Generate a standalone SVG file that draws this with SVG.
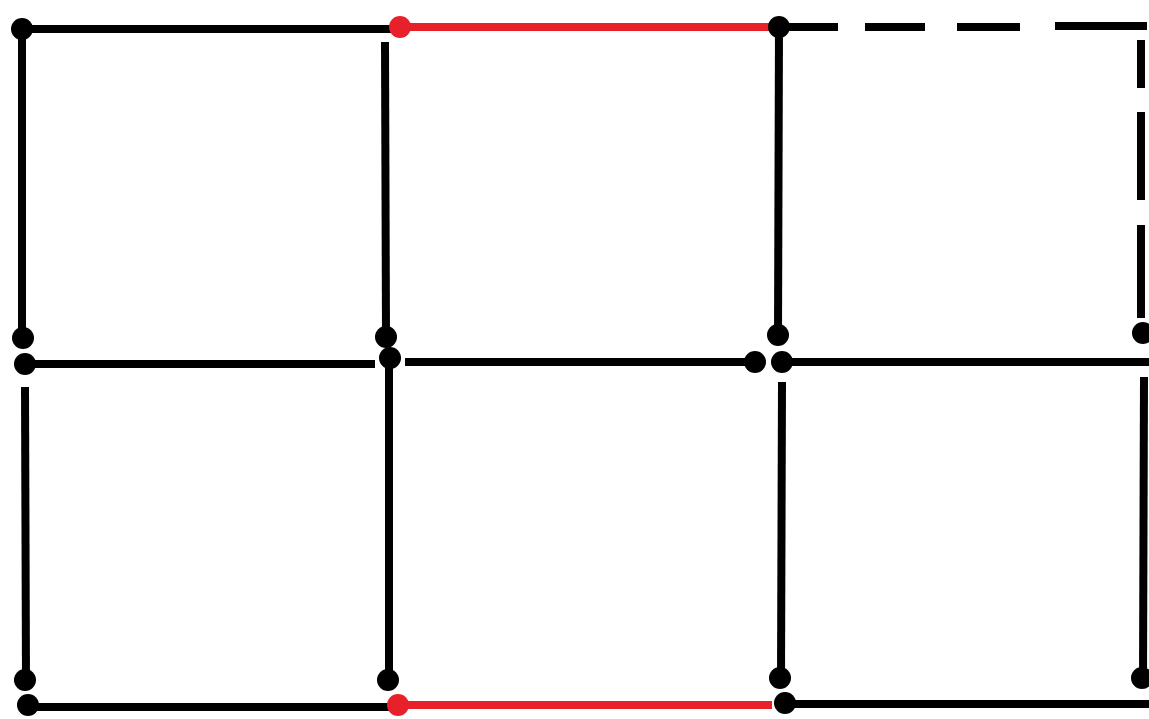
<svg xmlns="http://www.w3.org/2000/svg" width="1149" height="719" viewBox="0 0 1149 719">
<style>
.e{stroke:#000;stroke-width:8;fill:none;stroke-linecap:butt}
.r{stroke:#e8202a;stroke-width:8;fill:none}
.d{fill:#000}
.rd{fill:#e8202a}
</style>
<rect width="1149" height="719" fill="#fff"/>
<g id="connectors">
<line class="e" x1="22" y1="29" x2="400" y2="29"/>
<line class="r" x1="400" y1="27" x2="778" y2="27"/>
<line class="e" x1="778" y1="27" x2="838" y2="27"/>
<line class="e" x1="865" y1="27" x2="925" y2="27"/>
<line class="e" x1="957" y1="27" x2="1020" y2="27"/>
<line class="e" x1="1055" y1="26" x2="1147" y2="26"/>
<line class="e" x1="1141" y1="40" x2="1141" y2="88"/>
<line class="e" x1="1141" y1="112" x2="1141" y2="200"/>
<line class="e" x1="1141" y1="225" x2="1141" y2="318"/>
<line class="e" x1="22" y1="29" x2="22" y2="338"/>
<line class="e" x1="385" y1="42" x2="386" y2="337"/>
<line class="e" x1="779" y1="27" x2="778" y2="335"/>
<line class="e" x1="25" y1="364" x2="375" y2="364"/>
<line class="e" x1="405" y1="362" x2="755" y2="362"/>
<line class="e" x1="782" y1="362" x2="1149" y2="362"/>
<line class="e" x1="25" y1="387" x2="26" y2="680"/>
<line class="e" x1="389" y1="362" x2="389" y2="680"/>
<line class="e" x1="782" y1="382" x2="781" y2="678"/>
<line class="e" x1="1144" y1="377" x2="1143" y2="678"/>
<line class="e" x1="28" y1="707" x2="398" y2="707"/>
<line class="r" x1="398" y1="705" x2="772" y2="705"/>
<line class="e" x1="785" y1="704" x2="1149" y2="704"/>
</g>
<g id="n1"><circle class="d" cx="22" cy="29" r="11"/></g>
<g id="n2"><circle class="rd" cx="400" cy="27" r="11"/></g>
<g id="n3"><circle class="d" cx="779" cy="27" r="11"/></g>
<g id="n4"><circle class="d" cx="23" cy="338" r="11"/></g>
<g id="n5"><circle class="d" cx="25" cy="364" r="11"/></g>
<g id="n6"><circle class="d" cx="386" cy="337" r="11"/></g>
<g id="n7"><circle class="d" cx="390" cy="358" r="11"/></g>
<g id="n8"><circle class="d" cx="778" cy="335" r="11"/></g>
<g id="n9"><circle class="d" cx="755" cy="362" r="11"/></g>
<g id="n10"><circle class="d" cx="782" cy="362" r="11"/></g>
<g id="n11"><circle class="d" cx="1143" cy="333" r="11"/></g>
<g id="n12"><circle class="d" cx="25" cy="680" r="11"/></g>
<g id="n13"><circle class="d" cx="28" cy="705" r="11"/></g>
<g id="n14"><circle class="d" cx="388" cy="680" r="11"/></g>
<g id="n15"><circle class="rd" cx="398" cy="705" r="11"/></g>
<g id="n16"><circle class="d" cx="780" cy="678" r="11"/></g>
<g id="n17"><circle class="d" cx="785" cy="703" r="11"/></g>
<g id="n18"><circle class="d" cx="1142" cy="678" r="11"/></g>
</svg>
